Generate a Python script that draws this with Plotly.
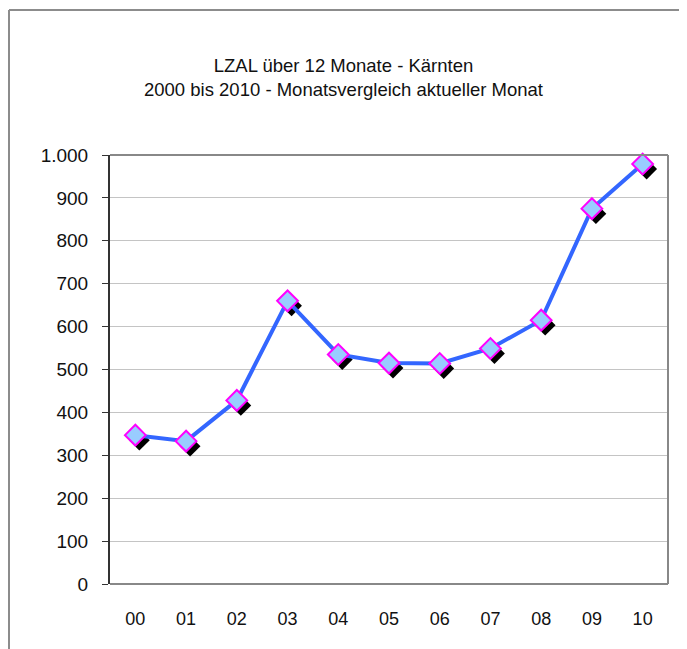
import plotly.graph_objects as go

# ---- data ----
categories = ["00", "01", "02", "03", "04", "05", "06", "07", "08", "09", "10"]
values = [347, 333, 428, 660, 535, 515, 514, 549, 615, 875, 979]
title_line1 = "LZAL über 12 Monate - Kärnten"
title_line2 = "2000 bis 2010 - Monatsvergleich aktueller Monat"

# ---- layout geometry (window pixels; page body has an 8px margin) ----
OFF = 8
WIN_W, WIN_H = 687, 649
W, H = WIN_W - OFF, WIN_H - OFF
PL, PR, PT, PB = 110 - OFF, 668 - OFF, 155 - OFF, 584 - OFF
pw, ph = PR - PL, PB - PT
xmin, xmax = -0.5, len(categories) - 0.5
ymin, ymax = 0, 1000

def px_x(px):
    return (px - OFF - PL) / pw

def px_y(py):
    return (PB - (py - OFF)) / ph

idx = list(range(len(categories)))
# shadow offset (px -> data units)
sdx = 4 * (xmax - xmin) / pw
sdy = 5 * (ymax - ymin) / ph

font = "Liberation Sans, Arial, Helvetica, sans-serif"

fig = go.Figure()
fig.add_trace(go.Scatter(
    x=[i + sdx for i in idx], y=[v - sdy for v in values],
    mode="markers",
    marker=dict(symbol="diamond", size=16, color="#000000", line=dict(width=0)),
    hoverinfo="skip", showlegend=False, cliponaxis=False))
fig.add_trace(go.Scatter(
    x=idx, y=values, mode="lines+markers",
    line=dict(color="#3366ff", width=4),
    marker=dict(symbol="diamond", size=16, color="#99ccff",
                line=dict(color="#ff00ff", width=2)),
    showlegend=False, cliponaxis=False))

shapes = [
    # outer frame
    dict(type="line", xref="paper", yref="paper", x0=px_x(9), x1=px_x(9), y0=px_y(10), y1=px_y(WIN_H + 5),
         line=dict(color="#8c8c8c", width=2)),
    dict(type="line", xref="paper", yref="paper", x0=px_x(9), x1=px_x(WIN_W + 5), y0=px_y(10), y1=px_y(10),
         line=dict(color="#8c8c8c", width=2)),
    # plot border top/right/bottom
    dict(type="line", xref="paper", yref="paper", x0=0, x1=1, y0=1, y1=1,
         line=dict(color="#888888", width=2)),
    dict(type="line", xref="paper", yref="paper", x0=1, x1=1, y0=0, y1=1,
         line=dict(color="#888888", width=2)),
    dict(type="line", xref="paper", yref="paper", x0=0, x1=1, y0=0, y1=0,
         line=dict(color="#888888", width=2)),
]

annotations = [
    dict(text=title_line1 + "<br>" + title_line2, xref="paper", yref="paper",
         x=px_x(343), y=px_y(78), xanchor="center", yanchor="middle",
         align="center", showarrow=False,
         font=dict(family=font, size=18.5, color="#111111")),
]

fig.update_layout(
    width=W, height=H,
    margin=dict(l=PL, r=W - PR, t=PT, b=H - PB, pad=0),
    paper_bgcolor="white", plot_bgcolor="white",
    separators=",.",
    shapes=shapes, annotations=annotations,
    font=dict(family=font, size=17, color="#111111"),
)
fig.update_xaxes(
    range=[xmin, xmax], tickmode="array", tickvals=idx, ticktext=categories,
    showgrid=False, zeroline=False, showline=False, ticks="",
    ticklabelstandoff=22, tickfont=dict(size=18),
)
fig.update_yaxes(
    range=[ymin, ymax], dtick=100, tick0=0, tickformat=",d",
    showgrid=True, gridcolor="#c4c4c4", gridwidth=1, zeroline=False,
    showline=True, linecolor="#333333", linewidth=2,
    ticks="outside", ticklen=6, tickcolor="#333333", tickwidth=1,
    ticklabelstandoff=10, tickfont=dict(size=19),
)

fig.write_html("out.html")
